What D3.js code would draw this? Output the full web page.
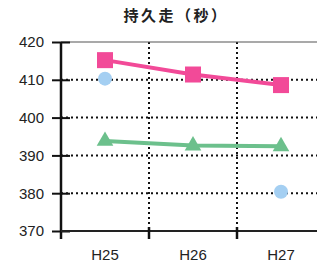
<!DOCTYPE html>
<html>
<head>
<meta charset="utf-8">
<script src="https://cdn.jsdelivr.net/npm/d3@7"></script>
<style>
  body { margin: 0; background: #fff; }
  svg { display: block; font-family: "Liberation Sans", Arial, sans-serif; }
</style>
</head>
<body>
<svg id="chart" width="317" height="268"></svg>
<script>
const categories = ['H25', 'H26', 'H27']
const pinkValues = [415.2, 411.4, 408.6]
const greenValues = [393.8, 392.6, 392.4]
const blueValues = [410.3, null, 380.4]
const yTicks = [370, 380, 390, 400, 410, 420]

const svg = d3.select('#chart')
const plotLeft = 61, plotTop = 42, plotBottom = 231, plotRight = 325

// scales
var x = d3.scaleBand().domain(categories).range([plotLeft, plotRight])
var y = d3.scaleLinear().domain([370, 420]).range([plotBottom, plotTop])

// title
svg.append('text')
    .attr('x', 176)
    .attr('y', 21)
    .attr('text-anchor', 'middle')
    .attr('font-family', '"Noto Sans CJK JP", sans-serif')
    .attr('font-weight', 'bold')
    .attr('font-size', 15)
    .attr('letter-spacing', 2.5)
    .attr('fill', '#222')
    .text('持久走（秒）')

// horizontal dotted grid
svg.selectAll('.hgrid')
    .data(yTicks.filter(d => d > 370 && d < 420))
    .enter()
    .append('line')
    .attr('x1', plotLeft).attr('x2', 317)
    .attr('y1', d => y(d)).attr('y2', d => y(d))
    .attr('stroke', '#111')
    .attr('stroke-width', 2)
    .attr('stroke-dasharray', '2,3')

// vertical dotted grid between categories
svg.selectAll('.vgrid')
    .data(categories.slice(1))
    .enter()
    .append('line')
    .attr('x1', d => x(d)).attr('x2', d => x(d))
    .attr('y1', plotTop).attr('y2', plotBottom)
    .attr('stroke', '#111')
    .attr('stroke-width', 2)
    .attr('stroke-dasharray', '2,3')

// top border
svg.append('line')
    .attr('x1', plotLeft).attr('x2', 317)
    .attr('y1', y(420)).attr('y2', y(420))
    .attr('stroke', '#555').attr('stroke-width', 1.2)

// y axis
var yAxis = svg.append('g')
    .attr('transform', 'translate(' + plotLeft + ',0)')
    .call(d3.axisLeft(y).tickValues(yTicks).tickSize(9).tickPadding(5))
yAxis.select('.domain').remove()
yAxis.selectAll('.tick line').attr('stroke', '#111').attr('stroke-width', 2).attr('x2', 9).attr('x1', -9)
yAxis.selectAll('.tick text').attr('font-size', 15).attr('fill', '#222').attr('x', -17)
svg.append('line')
    .attr('x1', plotLeft).attr('x2', plotLeft)
    .attr('y1', plotTop).attr('y2', plotBottom + 8)
    .attr('stroke', '#111').attr('stroke-width', 2.5)

// x axis
svg.append('line')
    .attr('x1', plotLeft).attr('x2', 317)
    .attr('y1', plotBottom).attr('y2', plotBottom)
    .attr('stroke', '#222').attr('stroke-width', 2)
svg.selectAll('.xtick')
    .data(categories.slice(1))
    .enter()
    .append('line')
    .attr('x1', d => x(d)).attr('x2', d => x(d))
    .attr('y1', plotBottom - 4).attr('y2', plotBottom + 8)
    .attr('stroke', '#111').attr('stroke-width', 2.5)
svg.selectAll('.xlabel')
    .data(categories)
    .enter()
    .append('text')
    .attr('x', d => x(d) + x.bandwidth() / 2)
    .attr('y', 260)
    .attr('text-anchor', 'middle')
    .attr('font-size', 15)
    .attr('fill', '#222')
    .text(d => d)

const cx = d => x(d) + x.bandwidth() / 2

// blue dots
svg.selectAll('.blue')
    .data(categories.map((c, i) => ({ c: c, v: blueValues[i] })).filter(d => d.v != null))
    .enter()
    .append('circle')
    .attr('cx', d => cx(d.c))
    .attr('cy', d => y(d.v))
    .attr('r', 7)
    .attr('fill', '#a4cff2')

// green line
var line = d3.line().x(d => cx(d.c)).y(d => y(d.v))
var green = categories.map((c, i) => ({ c: c, v: greenValues[i] }))
svg.append('path')
    .datum(green)
    .attr('d', line)
    .attr('fill', 'none')
    .attr('stroke', '#6cc08c')
    .attr('stroke-width', 4)
svg.selectAll('.tri')
    .data(green)
    .enter()
    .append('path')
    .attr('transform', d => 'translate(' + cx(d.c) + ',' + y(d.v) + ')')
    .attr('d', d3.symbol(d3.symbolTriangle, 120))
    .attr('fill', '#6cc08c')

// pink line
var pink = categories.map((c, i) => ({ c: c, v: pinkValues[i] }))
svg.append('path')
    .datum(pink)
    .attr('d', line)
    .attr('fill', 'none')
    .attr('stroke', '#f24a98')
    .attr('stroke-width', 4)
svg.selectAll('.sq')
    .data(pink)
    .enter()
    .append('rect')
    .attr('x', d => cx(d.c) - 8)
    .attr('y', d => y(d.v) - 8)
    .attr('width', 16)
    .attr('height', 16)
    .attr('fill', '#f24a98')
</script>
</body>
</html>
